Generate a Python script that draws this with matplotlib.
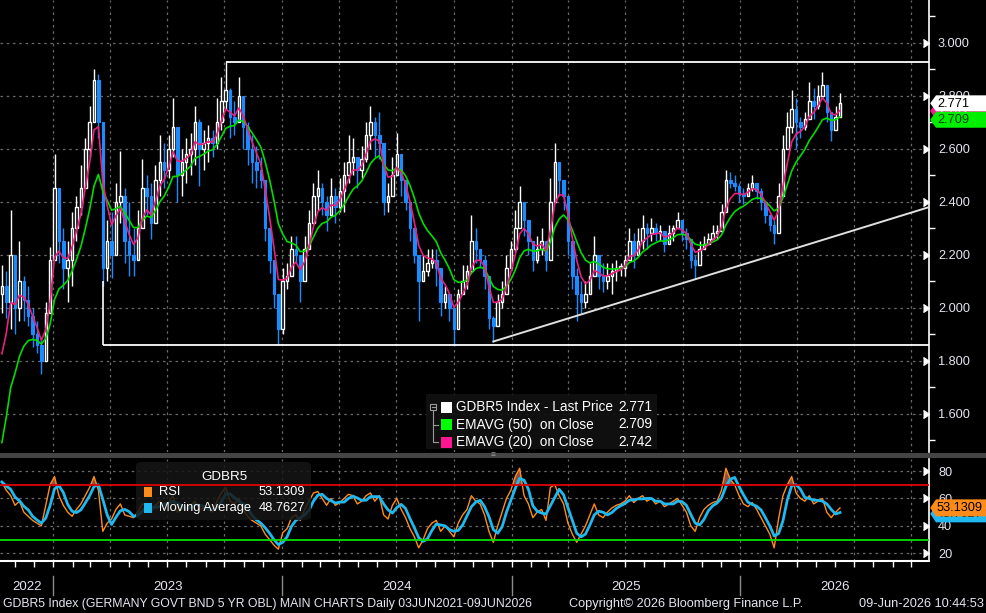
import numpy as np
import pandas as pd
import matplotlib
matplotlib.use('Agg')
import matplotlib.pyplot as plt
import matplotlib.dates as mdates
import matplotlib.transforms as mtrans
from matplotlib.patches import Polygon, FancyBboxPatch, Rectangle
from matplotlib.ticker import MultipleLocator, FixedLocator, FuncFormatter

plt.rcParams['font.family'] = ['Liberation Sans Narrow', 'Liberation Sans', 'DejaVu Sans']

# ---------------- data (weekly candles) ----------------
end_date = '2026-06-09'
first_open = 2.05

week_high = [
    2.16, 2.14, 2.37, 2.15, 2.25, 2.12, 2.08, 2.00, 1.95, 1.88,
    2.02, 2.23, 2.58, 2.39, 2.30, 2.25, 2.36, 2.42, 2.54, 2.64,
    2.76, 2.90, 2.88, 2.60, 2.33, 2.36, 2.47, 2.59, 2.45, 2.40,
    2.30, 2.37, 2.56, 2.50, 2.47, 2.54, 2.65, 2.62, 2.65, 2.79,
    2.62, 2.60, 2.64, 2.66, 2.76, 2.71, 2.67, 2.69, 2.67, 2.79,
    2.87, 2.93, 2.83, 2.78, 2.87, 2.76, 2.70, 2.65, 2.61, 2.57,
    2.42, 2.25, 2.12, 1.97, 2.15, 2.17, 2.27, 2.27, 2.20, 2.27,
    2.37, 2.47, 2.52, 2.47, 2.42, 2.49, 2.45, 2.49, 2.55, 2.65,
    2.64, 2.57, 2.61, 2.70, 2.76, 2.72, 2.74, 2.47, 2.47, 2.57,
    2.66, 2.57, 2.46, 2.39, 2.30, 2.20, 2.20, 2.22, 2.22, 2.22,
    2.10, 2.08, 2.05, 1.97, 2.07, 2.16, 2.16, 2.35, 2.30, 2.22,
    2.20, 2.02, 1.97, 2.05, 2.10, 2.20, 2.25, 2.37, 2.46, 2.37,
    2.30, 2.21, 2.27, 2.30, 2.22, 2.49, 2.62, 2.54, 2.47, 2.35,
    2.25, 2.15, 2.10, 2.10, 2.17, 2.27, 2.20, 2.17, 2.17, 2.17,
    2.18, 2.17, 2.20, 2.30, 2.28, 2.30, 2.35, 2.32, 2.34, 2.32,
    2.31, 2.28, 2.31, 2.31, 2.36, 2.32, 2.30, 2.21, 2.20, 2.25,
    2.27, 2.28, 2.31, 2.31, 2.39, 2.52, 2.51, 2.50, 2.47, 2.45,
    2.47, 2.50, 2.47, 2.45, 2.40, 2.35, 2.33, 2.47, 2.65, 2.74,
    2.82, 2.79, 2.72, 2.74, 2.85, 2.83, 2.84, 2.89, 2.79, 2.71,
    2.76, 2.81]

week_low = [
    1.98, 1.96, 1.92, 1.90, 1.95, 1.95, 1.93, 1.85, 1.83, 1.75,
    1.86, 2.00, 2.32, 2.17, 2.07, 2.02, 2.08, 2.25, 2.35, 2.47,
    2.57, 2.79, 2.64, 2.08, 2.10, 2.11, 2.20, 2.32, 2.17, 2.12,
    2.12, 2.22, 2.32, 2.35, 2.26, 2.35, 2.42, 2.45, 2.49, 2.57,
    2.40, 2.42, 2.47, 2.50, 2.54, 2.46, 2.52, 2.55, 2.57, 2.60,
    2.67, 2.75, 2.64, 2.65, 2.70, 2.60, 2.54, 2.47, 2.45, 2.45,
    2.25, 2.13, 2.00, 1.86, 1.90, 2.07, 2.15, 2.17, 2.02, 2.15,
    2.25, 2.32, 2.37, 2.35, 2.29, 2.35, 2.32, 2.36, 2.36, 2.47,
    2.50, 2.45, 2.49, 2.55, 2.60, 2.57, 2.56, 2.35, 2.36, 2.42,
    2.52, 2.42, 2.37, 2.25, 2.17, 1.95, 2.10, 2.12, 2.15, 2.08,
    1.97, 2.00, 1.95, 1.855, 2.00, 2.05, 2.07, 2.15, 2.17, 2.15,
    2.07, 1.92, 1.872, 1.95, 2.00, 2.07, 2.15, 2.21, 2.35, 2.27,
    2.20, 2.14, 2.17, 2.20, 2.14, 2.32, 2.47, 2.42, 2.37, 2.20,
    2.07, 1.95, 1.98, 2.00, 2.07, 2.15, 2.07, 2.06, 2.07, 2.05,
    2.10, 2.12, 2.12, 2.22, 2.15, 2.20, 2.22, 2.22, 2.25, 2.25,
    2.25, 2.21, 2.24, 2.25, 2.30, 2.25, 2.22, 2.15, 2.107, 2.19,
    2.22, 2.24, 2.26, 2.26, 2.30, 2.44, 2.45, 2.44, 2.40, 2.39,
    2.42, 2.44, 2.41, 2.37, 2.32, 2.29, 2.24, 2.37, 2.51, 2.60,
    2.66, 2.60, 2.64, 2.67, 2.72, 2.71, 2.75, 2.79, 2.70, 2.63,
    2.68, 2.74]

week_close = [
    2.08, 2.02, 2.20, 2.00, 2.10, 2.03, 1.97, 1.90, 1.86, 1.80,
    1.98, 2.18, 2.45, 2.25, 2.15, 2.18, 2.30, 2.38, 2.45, 2.60,
    2.70, 2.86, 2.70, 2.15, 2.25, 2.20, 2.40, 2.42, 2.25, 2.20,
    2.18, 2.30, 2.45, 2.42, 2.32, 2.48, 2.55, 2.52, 2.60, 2.68,
    2.50, 2.55, 2.58, 2.60, 2.70, 2.60, 2.62, 2.64, 2.62, 2.70,
    2.78, 2.82, 2.72, 2.70, 2.80, 2.68, 2.60, 2.55, 2.52, 2.48,
    2.30, 2.18, 2.05, 1.92, 2.10, 2.12, 2.22, 2.20, 2.10, 2.22,
    2.32, 2.42, 2.45, 2.40, 2.35, 2.42, 2.38, 2.44, 2.50, 2.55,
    2.57, 2.52, 2.56, 2.65, 2.70, 2.65, 2.62, 2.40, 2.42, 2.50,
    2.58, 2.48, 2.40, 2.30, 2.20, 2.10, 2.14, 2.17, 2.18, 2.15,
    2.02, 2.05, 2.00, 1.92, 2.05, 2.10, 2.14, 2.25, 2.22, 2.18,
    2.12, 1.96, 1.93, 2.02, 2.05, 2.15, 2.22, 2.30, 2.40, 2.33,
    2.25, 2.18, 2.22, 2.25, 2.18, 2.40, 2.55, 2.48, 2.42, 2.25,
    2.12, 2.05, 2.02, 2.05, 2.12, 2.20, 2.12, 2.10, 2.12, 2.14,
    2.15, 2.15, 2.18, 2.25, 2.20, 2.25, 2.30, 2.28, 2.30, 2.28,
    2.29, 2.24, 2.28, 2.30, 2.33, 2.28, 2.26, 2.18, 2.16, 2.22,
    2.24, 2.26, 2.28, 2.29, 2.36, 2.48, 2.47, 2.46, 2.43, 2.42,
    2.45, 2.47, 2.44, 2.40, 2.35, 2.31, 2.28, 2.42, 2.60, 2.68,
    2.75, 2.70, 2.68, 2.71, 2.78, 2.76, 2.80, 2.84, 2.74, 2.67,
    2.72, 2.771]

rsi_values = [
    72, 66, 62, 55, 58, 50, 47, 44, 42, 40,
    55, 70, 76, 62, 55, 50, 47, 52, 56, 62,
    68, 76, 66, 36, 42, 45, 52, 56, 48, 47,
    46, 50, 56, 55, 50, 55, 58, 55, 57, 62,
    50, 52, 54, 55, 58, 52, 53, 52, 50, 58,
    64, 68, 58, 56, 60, 52, 47, 44, 42, 40,
    34, 30, 26, 23, 35, 38, 46, 48, 44, 52,
    58, 64, 65, 60, 55, 60, 55, 57, 60, 63,
    62, 56, 58, 62, 64, 58, 62, 48, 45, 55,
    60, 52, 46, 38, 32, 24, 30, 38, 42, 44,
    36, 40, 36, 32, 42, 48, 52, 62, 58, 56,
    48, 36, 28, 40, 50, 60, 66, 76, 82, 62,
    56, 46, 50, 52, 44, 68, 70, 62, 56, 42,
    34, 28, 34, 40, 48, 56, 48, 46, 50, 53,
    55, 56, 58, 62, 57, 60, 62, 58, 60, 56,
    58, 54, 56, 58, 60, 55, 50, 40, 36, 46,
    52, 55, 57, 58, 66, 82, 74, 70, 62, 56,
    54, 57, 52, 46, 40, 34, 24, 45, 62, 70,
    76, 64, 60, 58, 62, 56, 58, 60, 50, 46,
    50, 53.13]

ema50_seed = 1.36
ema20_seed = 1.66
last_price = 2.771
ema50_last = 2.709
ema20_last = 2.742
rsi_last = 53.1309
rsi_ma_last = 48.7627
resistance_level = 2.928
support_level = 1.857
support_start = '2023-03-22'
support_mark_top = 2.10
trend_anchor_idx = (112, 158)
view_start, view_end = '2022-10-08', '2026-10-29'

year_labels = ['2022', '2023', '2024', '2025', '2026']
price_ticks = [1.6, 1.8, 2.0, 2.2, 2.4, 2.6, 2.8, 3.0]
rsi_ticks = [20, 40, 60, 80]
footer_left = 'GDBR5 Index (GERMANY GOVT BND 5 YR OBL) MAIN CHARTS Daily 03JUN2021-09JUN2026'
footer_mid = 'Copyright\u00a9 2026 Bloomberg Finance L.P.'
footer_right = '09-Jun-2026 10:44:53'

# ---------------- derived ----------------
hi = np.array(week_high)
lo = np.array(week_low)
c = np.array(week_close)
rsi = np.array(rsi_values, dtype=float)
n = len(c)
dates = pd.date_range(end=end_date, periods=n, freq='7D')
xd = mdates.date2num(dates.to_pydatetime())
o = np.r_[first_open, c[:-1]]


def ema(vals, seed, alpha):
    out, e = [], seed
    for v in vals:
        e = e + alpha * (v - e)
        out.append(e)
    return np.array(out)


a50 = 1 - (1 - 2 / 51) ** 5
a20 = 1 - (1 - 2 / 21) ** 5
ema50 = ema(c, ema50_seed, a50)
ema20 = ema(c, ema20_seed, a20)
rsi_ma = pd.Series(rsi).rolling(3, min_periods=1).mean().values

BLUE = '#1a8cff'
TXT = '#e6e6f2'
GRID = '#6a6a6a'
W, Hpx = 986, 613
AXFONT = ['Liberation Sans', 'DejaVu Sans']

fig = plt.figure(figsize=(W / 100, Hpx / 100), dpi=100, facecolor='black')


def fx(p):
    return p / W


def fy(p):
    return 1 - p / Hpx


ax = fig.add_axes([0, fy(452), fx(929), 452 / Hpx])
ax2 = fig.add_axes([0, fy(561), fx(929), (561 - 459) / Hpx], sharex=ax)
for a in (ax, ax2):
    a.set_facecolor('black')
    for s in ('top', 'left', 'bottom'):
        a.spines[s].set_visible(False)
    a.spines['right'].set_color('white')
    a.spines['right'].set_linewidth(1.2)

x_left = mdates.datestr2num(view_start)
x_right = mdates.datestr2num(view_end)

# ---------------- candles ----------------
up = c >= o
body_lo = np.minimum(o, c)
body_h = np.maximum(np.abs(c - o), 0.006)
ax.vlines(xd[up], lo[up], hi[up], color='white', lw=1, zorder=3)
ax.vlines(xd[~up], lo[~up], hi[~up], color=BLUE, lw=1, zorder=3)
ax.bar(xd[up], body_h[up], bottom=body_lo[up], width=4.0, facecolor='black',
       edgecolor='white', lw=1, zorder=4)
ax.bar(xd[~up], body_h[~up], bottom=body_lo[~up], width=4.0, facecolor=BLUE,
       edgecolor=BLUE, lw=0.8, zorder=4)

ax.plot(xd, ema50, color='#00dd00', lw=1.2, zorder=5)
ax.plot(xd, ema20, color='#e8207f', lw=1.2, zorder=5)

# annotations (drawn lines)
i_top = int(np.argmax(hi))
ax.hlines(resistance_level, xd[i_top], x_right, color='white', lw=1.3, zorder=6)
xs = mdates.datestr2num(support_start)
ax.hlines(support_level, xs, x_right, color='white', lw=1.3, zorder=6)
ax.vlines(xs, support_level, support_mark_top, color='white', lw=1.2, zorder=6)
i1, i2 = trend_anchor_idx
slope = (lo[i2] - lo[i1]) / (xd[i2] - xd[i1])
ax.plot([xd[i1], x_right], [lo[i1], lo[i1] + slope * (x_right - xd[i1])],
        color='#e0e0e0', lw=1.4, zorder=6)

ax.set_xlim(x_left, x_right)
ax.set_ylim(1.455, 3.161)

quarter_loc = mdates.MonthLocator(bymonth=[1, 4, 7, 10])
ax.xaxis.set_major_locator(quarter_loc)
ax.xaxis.set_minor_locator(mdates.MonthLocator())
ax.yaxis.set_major_locator(FixedLocator(price_ticks))
ax.yaxis.set_minor_locator(MultipleLocator(0.1))
ax.yaxis.set_major_formatter(FuncFormatter(lambda v, p: f'{v:.3f}'))
ax.yaxis.tick_right()
ax.grid(True, which='major', color=GRID, linestyle=(0, (2, 3)), lw=0.9)
ax.tick_params(axis='y', which='major', length=0, pad=6.5, labelcolor=TXT, labelsize=9.2)
ax.tick_params(axis='y', which='minor', length=4, width=1, color='white', direction='out')
ax.tick_params(axis='x', which='both', length=0, labelbottom=False)
ax.plot(np.ones(len(price_ticks)), price_ticks, ls='none', marker=5, ms=6, color='white',
        transform=ax.get_yaxis_transform(), clip_on=False, zorder=6)

# ---------------- RSI panel ----------------
ax2.fill_between(xd, rsi, 70, where=rsi > 70, interpolate=True, color='#9a5a4a', alpha=0.9,
                 zorder=1.5, lw=0)
ax2.plot(xd, rsi, color='#ff8c1a', lw=1.0, zorder=2)
ax2.plot(xd, rsi_ma, color='#1fb8f0', lw=2.0, zorder=2.2)
ax2.axhline(70, color='#e00000', lw=1.3, zorder=4)
ax2.axhline(30, color='#00e000', lw=1.3, zorder=4)
ax2.set_ylim(14.4, 88.75)
ax2.yaxis.set_major_locator(FixedLocator(rsi_ticks))
ax2.yaxis.tick_right()
ax2.grid(True, which='major', color=GRID, linestyle=(0, (2, 3)), lw=0.9)
ax2.tick_params(axis='y', which='major', length=0, pad=6.5, labelcolor=TXT, labelsize=9.2)
ax2.tick_params(axis='x', which='both', length=4, width=1, color='white', direction='out',
                labelbottom=False)
ax2.spines['bottom'].set_visible(True)
ax2.spines['bottom'].set_color('white')
ax2.spines['bottom'].set_linewidth(1.5)
ax2.plot(np.ones(len(rsi_ticks)), rsi_ticks, ls='none', marker=5, ms=6, color='white',
         transform=ax2.get_yaxis_transform(), clip_on=False, zorder=6)
for a in (ax, ax2):
    for lab in a.get_yticklabels():
        lab.set_family(AXFONT)

# year labels and separators
xt = ax2.get_xaxis_transform()
for lab in year_labels:
    y = int(lab)
    s = max(mdates.datestr2num(f'{y}-01-01'), x_left)
    e = min(mdates.datestr2num(f'{y + 1}-01-01'), x_right)
    ax2.text((s + e) / 2, -0.255, lab, transform=xt, ha='center', va='center',
             color=TXT, fontsize=9.5, clip_on=False)
    if mdates.datestr2num(f'{y}-01-01') > x_left:
        d = mdates.datestr2num(f'{y}-01-01')
        ax2.plot([d, d], [-0.15, -0.33], transform=xt, color='#8a8a8a', lw=1, clip_on=False)


# ---------------- value tags ----------------
def tag(axis, value, face, text, tcolor, z, half=0.08):
    tr = fig.dpi_scale_trans + mtrans.ScaledTranslation(1.0, value, axis.get_yaxis_transform())
    verts = [(0.012, 0), (0.07, half), (0.60, half), (0.60, -half), (0.07, -half)]
    axis.add_artist(Polygon(verts, closed=True, transform=tr, facecolor=face, edgecolor='none',
                            clip_on=False, zorder=z))
    axis.text(0.08, -0.005, text, transform=tr, ha='left', va='center', color=tcolor,
              fontsize=9.2, family=AXFONT, clip_on=False, zorder=z + 0.1)


tag(ax, ema20_last, '#ff1493', f'{ema20_last:.3f}', 'white', 8)
tag(ax, last_price, 'white', f'{last_price:.3f}', 'black', 9)
tag(ax, ema50_last, '#00ee00', f'{ema50_last:.3f}', '#063806', 9)
tag(ax2, rsi_ma_last, '#1fb8f0', f'{rsi_ma_last:.4f}', 'black', 8, half=0.085)
tag(ax2, rsi_last, '#ff8c1a', f'{rsi_last:.4f}', 'black', 9, half=0.085)


# ---------------- legends ----------------
def rect(axis, x0, y0, x1, y1, z, **kw):
    r = Rectangle((fx(x0), fy(y1)), (x1 - x0) / W, (y1 - y0) / Hpx, transform=fig.transFigure,
                  clip_on=False, zorder=z, **kw)
    axis.add_artist(r)


def ftext(axis, x, y, s, z=12, **kw):
    axis.text(fx(x), fy(y), s, transform=fig.transFigure, clip_on=False, zorder=z, **kw)


rect(ax, 426, 394, 657, 449, 10, facecolor='#111111', edgecolor='none', alpha=0.92)
# tree icon
rect(ax, 430, 404, 436, 410, 11, facecolor='none', edgecolor='#9a9a9a', lw=0.8)
ax.plot([fx(431.5), fx(434.5)], [fy(407), fy(407)], transform=fig.transFigure, color='#9a9a9a',
        lw=0.8, clip_on=False, zorder=11)
ax.plot([fx(433), fx(433), fx(438)], [fy(410), fy(442), fy(442)], transform=fig.transFigure,
        color='#9a9a9a', lw=0.8, clip_on=False, zorder=11)
ax.plot([fx(433), fx(438)], [fy(425), fy(425)], transform=fig.transFigure, color='#9a9a9a',
        lw=0.8, clip_on=False, zorder=11)
leg_rows = [('GDBR5 Index - Last Price', f'{last_price:.3f}', 'white'),
            ('EMAVG (50)  on Close', f'{ema50_last:.3f}', '#00ff00'),
            ('EMAVG (20)  on Close', f'{ema20_last:.3f}', '#ff1493')]
for k, (lab, val, col) in enumerate(leg_rows):
    yy = 407 + k * 17.5
    rect(ax, 441, yy - 5.5, 452, yy + 5.5, 11, facecolor=col, edgecolor='none')
    ftext(ax, 456, yy, lab, color='white', fontsize=9.8, ha='left', va='center')
    ftext(ax, 652, yy, val, color='white', fontsize=9.8, ha='right', va='center')

box2 = FancyBboxPatch((fx(136), fy(520)), (311 - 136) / W, (520 - 462) / Hpx,
                      boxstyle='round,pad=0,rounding_size=0.006', transform=fig.transFigure,
                      facecolor='#161616', edgecolor='none', alpha=0.85, clip_on=False, zorder=3)
ax2.add_artist(box2)
ftext(ax2, 224, 477, 'GDBR5', color='white', fontsize=9.6, ha='center', va='center')
rsi_rows = [('RSI', f'{rsi_last:.4f}', '#ff8c1a'),
            ('Moving Average', f'{rsi_ma_last:.4f}', '#1fb8f0')]
for k, (lab, val, col) in enumerate(rsi_rows):
    yy = 492 + k * 16
    rect(ax2, 144, yy - 5, 152, yy + 5, 12, facecolor=col, edgecolor='none')
    ftext(ax2, 159, yy, lab, color='white', fontsize=9.3, ha='left', va='center')
    ftext(ax2, 305, yy, val, color='white', fontsize=9.3, ha='right', va='center')

# separator bar between panels
fig.add_artist(Rectangle((0, fy(458)), 1, 5 / Hpx, transform=fig.transFigure,
                         facecolor='#444444', edgecolor='none'))
fig.text(fx(493), fy(455.5), '\u2261', color='#9a9a9a', fontsize=6, ha='center', va='center')

# footer
fig.text(fx(3), fy(604), footer_left, color=TXT, fontsize=8.8, ha='left', va='center')
fig.text(fx(569), fy(604), footer_mid, color=TXT, fontsize=9.2, ha='left', va='center')
fig.text(fx(984), fy(604), footer_right, color=TXT, fontsize=9.2, ha='right', va='center')

fig.savefig('out.png', dpi=100, facecolor='black')
